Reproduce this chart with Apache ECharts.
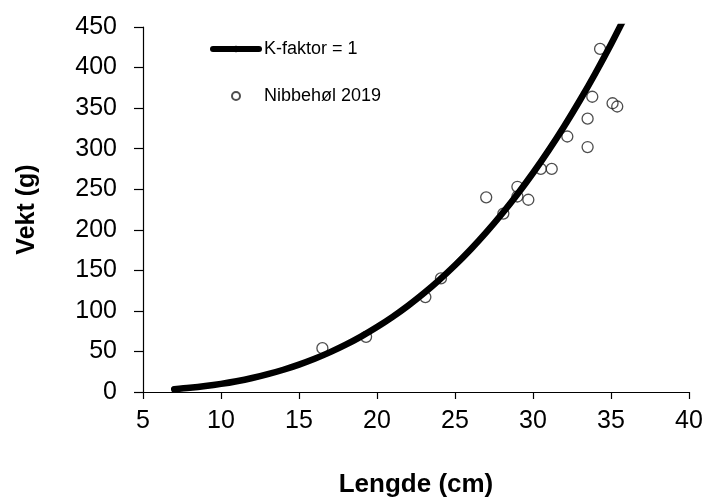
<!DOCTYPE html>
<html>
<head>
<meta charset="utf-8">
<script src="https://cdn.jsdelivr.net/npm/echarts@6/dist/echarts.min.js"></script>
<style>
  html, body { margin: 0; padding: 0; background: #fff; }
  #chart { width: 706px; height: 499px; }
</style>
</head>
<body>
<div id="chart"></div>
<script>
// Reference curve for condition factor K = 1 (weight in g against length in cm)
const curveLength = [7, 8, 9, 10, 11, 12, 13, 14, 15, 16, 17, 18, 19, 20, 21, 22,
  23, 24, 25, 26, 27, 28, 29, 30, 31, 32, 33, 34, 35, 36];
const curveWeight = [3.43, 5.12, 7.29, 10, 13.31, 17.28, 21.97, 27.44, 33.75, 40.96,
  49.13, 58.32, 68.59, 80, 92.61, 106.48, 121.67, 138.24, 156.25, 175.76, 196.83,
  219.52, 243.89, 270, 297.91, 327.68, 359.37, 393.04, 428.75, 466.56];

// Sampled fish, Nibbehøl 2019
const fishLength = [16.5, 19.3, 23.1, 24.1, 27.0, 28.1, 29.0, 29.0, 29.7, 30.5,
  31.2, 32.2, 33.5, 33.5, 33.8, 34.3, 35.1, 35.4];
const fishWeight = [54, 68, 117, 140, 240, 220, 253, 241, 237, 275,
  275, 315, 302, 337, 364, 423, 356, 352];

const xTicks = { min: 5, max: 40, step: 5 };
const yTicks = { min: 0, max: 450, step: 50 };

const curveName = 'K-faktor = 1';
const fishName = 'Nibbehøl 2019';

const chart = echarts.init(document.getElementById('chart'), null, { renderer: 'canvas' });

const font = '"Liberation Sans", Arial, sans-serif';

chart.setOption({
  animation: false,
  backgroundColor: '#ffffff',
  grid: {
    left: 143, right: 17, top: 27, bottom: 107,
    containLabel: false,
    outerBoundsMode: 'none'
  },
  legend: {
    orient: 'vertical',
    left: 205,
    top: 35,
    itemWidth: 46,
    itemHeight: 8,
    itemGap: 29,
    textStyle: { fontFamily: font, fontSize: 18, color: '#000' },
    data: [
      { name: curveName, lineStyle: { width: 6, cap: 'round', color: '#000' }, itemStyle: { color: '#000' } },
      { name: fishName }
    ]
  },
  xAxis: {
    type: 'value',
    min: xTicks.min,
    max: xTicks.max,
    interval: xTicks.step,
    name: 'Lengde (cm)',
    nameLocation: 'middle',
    nameGap: 80,
    nameTextStyle: { fontFamily: font, fontSize: 26, fontWeight: 'bold', color: '#000' },
    splitLine: { show: false },
    axisLine: { onZero: false, lineStyle: { color: '#000', width: 1.2 } },
    axisTick: { show: true, length: 7, inside: false, lineStyle: { color: '#000', width: 1.2 } },
    axisLabel: { fontFamily: font, fontSize: 25, color: '#000', margin: 17 }
  },
  yAxis: {
    type: 'value',
    min: yTicks.min,
    max: yTicks.max,
    interval: yTicks.step,
    name: 'Vekt (g)',
    nameLocation: 'middle',
    nameGap: 103,
    nameRotate: 90,
    nameTextStyle: { fontFamily: font, fontSize: 25, fontWeight: 'bold', color: '#000' },
    splitLine: { show: false },
    axisLine: { show: true, onZero: false, lineStyle: { color: '#000', width: 1.2 } },
    axisTick: { show: true, length: 9, inside: false, lineStyle: { color: '#000', width: 1.2 } },
    axisLabel: { fontFamily: font, fontSize: 25, color: '#000', margin: 26 }
  },
  series: [
    {
      name: fishName,
      type: 'scatter',
      z: 2,
      symbol: 'circle',
      symbolSize: 11,
      itemStyle: { color: 'rgba(255,255,255,0)', borderColor: '#222', borderWidth: 1.3 },
      data: fishLength.map((l, i) => [l, fishWeight[i]])
    },
    {
      name: curveName,
      type: 'line',
      z: 3,
      symbol: 'none',
      smooth: 0.3,
      clip: true,
      itemStyle: { color: '#000' },
      lineStyle: { color: '#000', width: 6.5, cap: 'round' },
      data: curveLength.map((l, i) => [l, curveWeight[i]])
    }
  ]
});
</script>
</body>
</html>
